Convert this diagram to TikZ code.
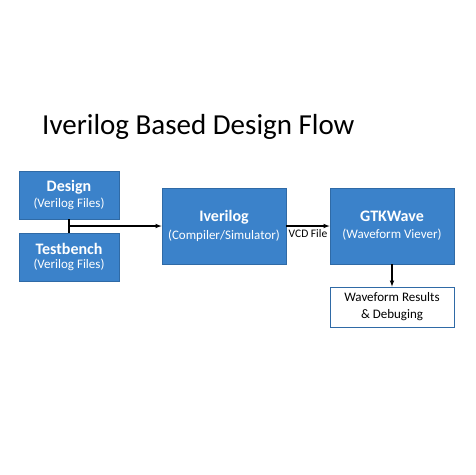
\documentclass[tikz,border=0pt]{standalone}
\usepackage{fontspec}
\setmainfont{Carlito}
\usepackage{tikz}
\usepackage{xcolor}
\definecolor{boxblue}{HTML}{3B82CA}
\definecolor{boxedge}{HTML}{2F6AA6}

\newcommand{\boxhead}[1]{{\fontsize{16}{19}\selectfont\bfseries #1}}
\newcommand{\boxsub}[1]{{\fontsize{13}{16}\selectfont #1}}

\begin{document}
\begin{tikzpicture}[x=1pt,y=-1pt,
    bluebox/.style={draw=boxedge, fill=boxblue, text=white, line width=0.8pt, align=center, inner sep=0pt},
    whitebox/.style={draw=boxedge, fill=white, text=black, line width=0.8pt, align=center, inner sep=0pt,
        font=\fontsize{13}{17}\selectfont},
    flow/.style={-latex, line width=1.1pt}]
            \useasboundingbox (0,0) rectangle (475,475);

            % title
            \node[anchor=base west, inner sep=0pt, font=\fontsize{29}{34}\selectfont] (title) at (42,134) {Iverilog Based Design Flow};

            % boxes
            \node[bluebox, minimum width=100, minimum height=48] (design) at (69,195)
                {\boxhead{Design}\\[2pt]\boxsub{(Verilog Files)}};
            \node[bluebox, minimum width=100, minimum height=48] (tb) at (69,257)
                {\boxhead{Testbench}\\[2pt]\boxsub{(Verilog Files)}};
            \node[bluebox, minimum width=124, minimum height=76] (iverilog) at (224,226)
                {\boxhead{Iverilog}\\[5pt]\boxsub{(Compiler/Simulator)}};
            \node[bluebox, minimum width=124, minimum height=76] (gtk) at (392,226)
                {\boxhead{GTKWave}\\[5pt]\boxsub{(Waveform Viever)}};
            \node[whitebox, minimum width=124, minimum height=40] (result) at (392,307)
                {Waveform Results\\\& Debuging};

            % draw connectors
            \coordinate (join) at (69,226);
            \draw[line width=1.1pt] (design.south) -- (tb.north);
            \draw[flow] (join) -- (iverilog.west);
            \draw[flow] (iverilog.east) -- node[below, font=\fontsize{11.5}{14}\selectfont, inner sep=3pt] {VCD File} (gtk.west);
            \draw[flow] (gtk.south) -- (result.north);
        \end{tikzpicture}
\end{document}
